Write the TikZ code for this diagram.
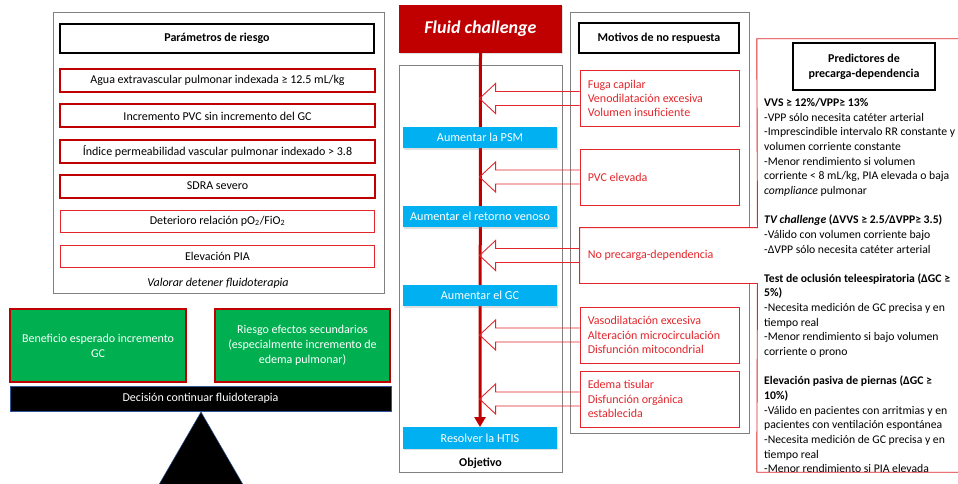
\documentclass[tikz,border=0pt]{standalone}
\usepackage{fontspec}
\setmainfont{Carlito}
\usetikzlibrary{arrows.meta,calc,shadows}
\definecolor{dred}{HTML}{C00000}
\definecolor{lred}{HTML}{E3262B}
\definecolor{gbox}{HTML}{808080}
\definecolor{grn}{HTML}{00B050}
\definecolor{blu}{HTML}{00B0F0}
\definecolor{barblue}{HTML}{2F5597}
\newcommand\pl[2]{\node[pline] (p#1) at (764,{106.5+14.65*#1}) {#2};}
\newcommand\hollowarr[1]{\draw[hollow] ($(#1.west)+(0,-7)$) -- ++(-84,0) -- ++(0,-8) -- ++(-16,15) -- ++(16,15) -- ++(0,-8) -- ($(#1.west)+(0,7)$);}
\newcommand\mottext[3]{\node[mottxt] (#1) at ($(#2.west)+(8,0)$) {#3};}
\begin{document}
\begin{tikzpicture}[x=1pt,y=-1pt,
  every node/.style={inner sep=0pt, font=\fontsize{12}{14}\selectfont},
  graybox/.style={draw=gbox, line width=0.9pt},
  titlebox/.style={draw=black, line width=2pt, font=\fontsize{12}{14}\selectfont\bfseries},
  riskthick/.style={draw=dred, line width=2pt, minimum width=315pt, minimum height=23pt},
  riskthin/.style={draw=lred, line width=1pt, minimum width=314pt, minimum height=22pt},
  greenbox/.style={fill=grn, draw=dred, line width=1.5pt, text=white, align=center,
    minimum height=73pt, font=\fontsize{12}{14.8}\selectfont},
  bluebox/.style={fill=blu, text=white, minimum width=154pt, minimum height=21.5pt,
    font=\fontsize{12.2}{14}\selectfont, drop shadow={shadow xshift=1pt, shadow yshift=-1.5pt, opacity=0.25}},
  motbox/.style={draw=lred, line width=0.9pt, minimum width=159pt, minimum height=56pt},
  mottxt/.style={anchor=west, text=lred, align=left, font=\fontsize{12}{14.2}\selectfont},
  hollow/.style={draw=lred, line width=0.9pt, line join=miter},
  pline/.style={anchor=base west, font=\fontsize{11.7}{13}\selectfont}
]
\useasboundingbox (0,0) rectangle (958,484);
\fill[white] (0,0) rectangle (958,484);

% ---------- left panel ----------
\node[graybox, minimum width=331pt, minimum height=281pt] (riskpanel) at (218.5,152.5) {};
\node[titlebox, minimum width=314pt, minimum height=29pt] (risktitle) at (217,38.5) {Parámetros de riesgo};
\node[riskthick] (r1) at (217.5,80.5) {Agua extravascular pulmonar indexada ≥ 12.5 mL/kg};
\node[riskthick] (r2) at (217.5,116) {Incremento PVC sin incremento del GC};
\node[riskthick] (r3) at (217.5,151.5) {Índice permeabilidad vascular pulmonar indexado > 3.8};
\node[riskthick] (r4) at (217.5,186) {SDRA severo};
\node[riskthin] (r5) at (217.5,221) {Deterioro relación pO\textsubscript{2}/FiO\textsubscript{2}};
\node[riskthin] (r6) at (217.5,256) {Elevación PIA};
\node[font=\fontsize{12}{14}\selectfont\itshape] (valorar) at (218,283) {Valorar detener fluidoterapia};

\node[greenbox, minimum width=176pt] (benef) at (98,345.5) {Beneficio esperado incremento\\GC};
\node[greenbox, minimum width=175pt] (riesgo) at (302.5,345.5) {Riesgo efectos secundarios\\(especialmente incremento de\\edema pulmonar)};
\node[fill=black, draw=barblue, line width=0.8pt, text=white, minimum width=381pt, minimum height=25pt,
  font=\fontsize{12}{14}\selectfont] (bar) at (200.5,398.5) {Decisión continuar fluidoterapia};
\filldraw[fill=black, draw=barblue, line width=0.5pt] (201,412) -- (157,488) -- (245,488) -- cycle;

% ---------- middle ----------
\node[graybox, minimum width=163pt, minimum height=407pt] (objpanel) at (480.5,268.5) {};
\draw[graybox] (749,228) -- (749,12) -- (570,12) -- (570,433) -- (749,433) -- (749,283);
\node[fill=dred, text=white, minimum width=163pt, minimum height=48pt,
  font=\fontsize{18}{20}\selectfont\bfseries\itshape,
  drop shadow={shadow xshift=1pt, shadow yshift=-1.5pt, opacity=0.25}] (fc) at (480.5,29) {Fluid challenge};

\node[bluebox] (htis) at (480,438) {Resolver la HTIS};
\draw[dred, line width=3pt, -{Triangle[length=10pt,width=11pt]}] (fc.south) -- (htis.north);
\node[bluebox] (psm) at (480,137.5) {Aumentar la PSM};
\node[bluebox] (rv) at (480,216.5) {Aumentar el retorno venoso};
\node[bluebox] (gc) at (480,295.5) {Aumentar el GC};
\node[font=\fontsize{12}{14}\selectfont\bfseries] (objetivo) at (480.5,463) {Objetivo};

\node[titlebox, minimum width=160pt, minimum height=30pt] (mottitle) at (659,38) {Motivos de no respuesta};
\node[motbox] (b1) at (659.5,98.5) {};
\node[motbox] (b2) at (659.5,177) {};
\node[motbox, draw=none, minimum width=177pt, minimum height=55pt] (b3) at (668.5,255.5) {};
\node[motbox] (b4) at (659.5,335) {};
\node[motbox] (b5) at (659.5,399) {};
\mottext{t1}{b1}{Fuga capilar\\Venodilatación excesiva\\Volumen insuficiente}
\mottext{t2}{b2}{PVC elevada}
\mottext{t3}{b3}{No precarga-dependencia}
\mottext{t4}{b4}{Vasodilatación excesiva\\Alteración microcirculación\\Disfunción mitocondrial}
\mottext{t5}{b5}{Edema tisular\\Disfunción orgánica\\establecida}

\hollowarr{b1}
\hollowarr{b2}
\hollowarr{b3}
\hollowarr{b4}
\hollowarr{b5}

% ---------- right panel ----------
\node[minimum width=213pt, minimum height=433pt] (pred) at (863.5,255.5) {};
\draw[draw=lred, line width=0.9pt] (pred.north east) -- (pred.north west) -- (b3.north east) -- (b3.north west)
  -- (b3.south west) -- (b3.south east) -- (pred.south west) -- (pred.south east);
\node[titlebox, minimum width=142pt, minimum height=47pt, align=center,
  font=\fontsize{12}{14.8}\selectfont\bfseries] (predtitle) at (864,66.5) {Predictores de\\precarga-dependencia};

\pl{0}{\textbf{VVS ≥ 12\%/VPP≥ 13\%}}
\pl{1}{-VPP sólo necesita catéter arterial}
\pl{2}{-Imprescindible intervalo RR constante y}
\pl{3}{volumen corriente constante}
\pl{4}{-Menor rendimiento si volumen}
\pl{5}{corriente < 8 mL/kg, PIA elevada o baja}
\pl{6}{\textit{compliance} pulmonar}
\pl{8}{\textbf{\textit{TV challenge} (ΔVVS ≥ 2.5/ΔVPP≥ 3.5)}}
\pl{9}{-Válido con volumen corriente bajo}
\pl{10}{-ΔVPP sólo necesita catéter arterial}
\pl{12}{\textbf{Test de oclusión teleespiratoria (ΔGC ≥}}
\pl{13}{\textbf{5\%)}}
\pl{14}{-Necesita medición de GC precisa y en}
\pl{15}{tiempo real}
\pl{16}{-Menor rendimiento si bajo volumen}
\pl{17}{corriente o prono}
\pl{19}{\textbf{Elevación pasiva de piernas (ΔGC ≥}}
\pl{20}{\textbf{10\%)}}
\pl{21}{-Válido en pacientes con arritmias y en}
\pl{22}{pacientes con ventilación espontánea}
\pl{23}{-Necesita medición de GC precisa y en}
\pl{24}{tiempo real}
\pl{25}{-Menor rendimiento si PIA elevada}
\end{tikzpicture}
\end{document}
